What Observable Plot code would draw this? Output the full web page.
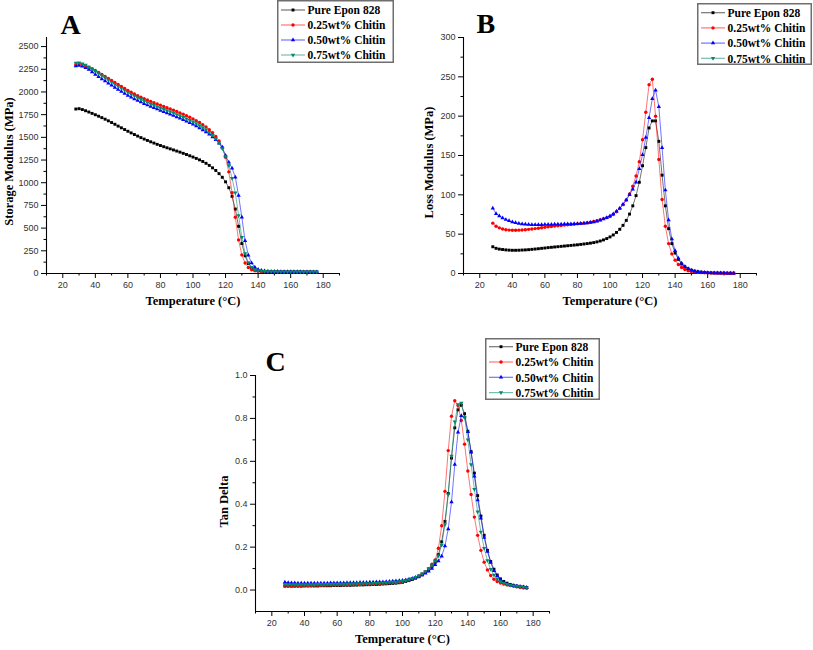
<!DOCTYPE html>
<html><head><meta charset="utf-8">
<script src="https://cdn.jsdelivr.net/npm/d3@7"></script>
<script src="https://cdn.jsdelivr.net/npm/@observablehq/plot@0.6"></script>
<style>
body{margin:0;background:#fff;}
#root{position:relative;width:813px;height:650px;overflow:hidden;background:#fff;}
.panel{position:absolute;}
.legend{position:absolute;overflow:visible;}
</style></head><body><div id="root"></div>
<script>
// ---------- data ----------
const temps = [28,30,32,34,36,38,40,42,44,46,48,50,52,54,56,58,60,62,64,66,68,70,72,74,76,78,80,82,84,86,88,90,92,94,96,98,100,
  102,104,106,108,110,112,114,116,118,120,122,124,126,128,130,132,134,136,138,140,142,144,
  146,148,150,152,154,156,158,160,162,164,166,168,170,172,174,176];

const seriesNames = ["Pure Epon 828","0.25wt% Chitin","0.50wt% Chitin","0.75wt% Chitin"];
const seriesColors = ["#000000","#ff0000","#0000ff","#00896a"];

const xDomain = [10, 190];
const xMajor = [20,40,60,80,100,120,140,160,180];
const xMinor = [10,30,50,70,90,110,130,150,170,190];
const storageTicks = [0,250,500,750,1000,1250,1500,1750,2000,2250,2500];
const storageMinor = [125,375,625,875,1125,1375,1625,1875,2125,2375];
const lossTicks = [0,50,100,150,200,250,300];
const lossMinor = [25,75,125,175,225,275];
const tanTicks = [0,0.2,0.4,0.6,0.8,1.0];
const tanMinor = [0.1,0.3,0.5,0.7,0.9];

// Storage modulus (MPa)
const storagePure = [1812,1816,1806,1793,1779,1764,1749,1733,1717,1700,1682,1663,1644,1624,1605,1586,1567,1549,1531,1514,1497,1481,1466,1451,1437,1423,1410,1397,1385,1373,1361,1349,1337,1324,1311,1297,1283,
  1268,1252,1234,1214,1191,1164,1135,1100,1060,1010,945,850,710,520,330,195,110,65,42,30,24,21,
  19,18,18,17,17,17,16,16,16,16,15,15,15,15,15,15];
const storage025 = [2300,2312,2304,2290,2273,2255,2236,2214,2192,2170,2148,2126,2104,2082,2060,2038,2016,1996,1977,1959,1942,1926,1911,1896,1882,1868,1854,1840,1826,1812,1798,1784,1769,1754,1738,1721,1703,
  1684,1663,1640,1614,1585,1551,1510,1460,1390,1280,1120,890,620,370,205,115,66,42,31,26,23,22,
  21,21,20,20,20,20,20,19,19,19,19,19,19,19,18,18];
const storage050 = [2285,2292,2282,2266,2248,2220,2192,2168,2144,2120,2097,2074,2050,2026,2004,1982,1962,1942,1923,1905,1888,1871,1855,1840,1826,1812,1797,1783,1769,1755,1740,1725,1710,1694,1678,1661,1643,
  1624,1604,1582,1559,1533,1505,1473,1436,1390,1300,1225,1160,1060,860,620,360,200,115,68,45,33,27,
  24,22,21,21,20,20,20,19,19,19,19,18,18,18,18,18];
const storage075 = [2318,2322,2312,2296,2276,2252,2228,2204,2180,2156,2132,2108,2085,2062,2040,2018,1997,1976,1956,1937,1919,1901,1884,1868,1853,1838,1824,1810,1796,1782,1768,1753,1738,1722,1706,1689,1671,
  1652,1631,1608,1583,1555,1523,1486,1441,1376,1290,1190,1050,890,640,400,220,120,70,45,33,27,24,
  22,21,21,20,20,20,19,19,19,19,18,18,18,18,18,18];

// Loss modulus (MPa)
const lossPure = [34,32,31,30.5,30,29.7,29.5,29.5,29.6,29.8,30,30.3,30.7,31.1,31.5,32,32.4,32.9,33.3,33.7,34.1,34.5,34.9,35.3,35.7,36.1,36.5,37,37.5,38,38.6,39.3,40.2,41.3,42.7,44.4,46.5,
  49,52.2,56.2,61.2,67.5,75.5,86,99,116,137,160,185,194,194,168,125,86,57,38,26,18,12,
  8.5,6,4.2,3,2.2,1.7,1.3,1.0,0.8,0.7,0.6,0.5,0.5,0.4,0.4,0.4];
const loss025 = [64,60,58,56.5,55.7,55.2,55,55,55.1,55.3,55.7,56.1,56.6,57.1,57.6,58.2,58.8,59.3,59.8,60.3,60.7,61.1,61.5,61.9,62.3,62.7,63.1,63.5,64,64.6,65.3,66.1,67.1,68.4,69.8,71,72.5,
  75,78.5,82.5,87.5,93.5,101,111,124,142,170,205,240,247,200,145,94,60,38,25,17,11.5,7.6,
  5,3.4,2.4,1.8,1.4,1.1,0.9,0.8,0.7,0.6,0.5,0.5,0.4,0.4,0.4,0.4];
const loss050 = [83,76,73,70.5,68.5,67,65.5,64.5,63.6,63,62.5,62.2,62,62,62,62.1,62.2,62.3,62.4,62.5,62.6,62.7,62.8,62.9,63,63.1,63.3,63.5,63.8,64.2,64.8,65.5,66.5,67.7,69.2,71,73,
  75.5,79,83,88,93.5,100,107,116,133,151,173,198,222,233,212,160,106,68,44,29,19.5,13,
  8.8,6,4.2,3,2.2,1.7,1.3,1.0,0.8,0.7,0.6,0.5,0.5,0.4,0.4,0.4];
const loss075 = []; // not drawn in the reference panel B

// Tan delta
const tanPure = [0.018,0.018,0.018,0.018,0.018,0.018,0.019,0.019,0.019,0.019,0.019,0.020,0.020,0.020,0.020,0.021,0.021,0.021,0.022,0.022,0.022,0.023,0.023,0.024,0.024,0.025,0.025,0.026,0.026,0.027,0.028,0.029,0.030,0.031,0.032,0.034,0.036,
  0.040,0.044,0.049,0.055,0.062,0.071,0.082,0.095,0.11,0.13,0.165,0.225,0.32,0.45,0.615,0.756,0.84,0.862,0.822,0.74,0.645,0.545,
  0.44,0.345,0.255,0.185,0.133,0.097,0.07,0.052,0.04,0.032,0.026,0.022,0.019,0.016,0.014,0.012];
const tan025 = [0.022,0.021,0.021,0.021,0.021,0.021,0.021,0.021,0.022,0.022,0.022,0.022,0.023,0.023,0.023,0.024,0.024,0.024,0.025,0.025,0.026,0.026,0.027,0.027,0.028,0.028,0.029,0.029,0.030,0.031,0.032,0.033,0.034,0.035,0.036,0.038,0.040,
  0.044,0.048,0.053,0.059,0.066,0.075,0.086,0.1,0.12,0.14,0.195,0.30,0.46,0.65,0.81,0.882,0.86,0.79,0.68,0.555,0.445,0.34,
  0.255,0.185,0.13,0.094,0.068,0.05,0.04,0.033,0.028,0.024,0.021,0.018,0.015,0.012,0.01,0.008];
const tan050 = [0.036,0.034,0.033,0.033,0.032,0.032,0.032,0.032,0.032,0.032,0.032,0.032,0.032,0.032,0.033,0.033,0.033,0.033,0.033,0.034,0.034,0.034,0.034,0.035,0.035,0.035,0.036,0.036,0.037,0.037,0.038,0.039,0.040,0.041,0.042,0.043,0.044,
  0.047,0.05,0.054,0.058,0.063,0.07,0.078,0.088,0.1,0.118,0.135,0.158,0.205,0.285,0.41,0.585,0.735,0.812,0.806,0.738,0.642,0.53,
  0.42,0.335,0.245,0.18,0.128,0.09,0.065,0.047,0.036,0.028,0.023,0.02,0.018,0.016,0.014,0.012];
const tan075 = [0.027,0.026,0.026,0.026,0.026,0.026,0.026,0.026,0.026,0.026,0.027,0.027,0.027,0.027,0.027,0.028,0.028,0.028,0.028,0.029,0.029,0.029,0.030,0.030,0.030,0.031,0.031,0.032,0.032,0.033,0.034,0.035,0.036,0.037,0.038,0.040,0.042,
  0.045,0.049,0.054,0.06,0.067,0.076,0.087,0.1,0.115,0.135,0.16,0.21,0.305,0.445,0.625,0.785,0.865,0.872,0.805,0.7,0.585,0.47,
  0.365,0.27,0.195,0.138,0.097,0.07,0.052,0.04,0.032,0.027,0.023,0.02,0.018,0.016,0.013,0.011];

// ---------- drawing ----------
const sqrt3 = Math.sqrt(3);
const triangleDown = {draw(ctx, size) {
  const y = -Math.sqrt(size / (sqrt3 * 3));
  ctx.moveTo(0, -2 * y);
  ctx.lineTo(-sqrt3 * y, y);
  ctx.lineTo(sqrt3 * y, y);
  ctx.closePath();
}};
const seriesSymbols = [d3.symbolSquare, d3.symbolCircle, d3.symbolTriangle, triangleDown];
const markerR = [1.65, 1.7, 1.6, 1.6];

const root = document.getElementById("root");
const SERIF = "'Liberation Serif', 'Times New Roman', serif";
const SANS = "'Liberation Sans', Arial, sans-serif";

function rows(values) {
  return temps.map((t, i) => ({t, v: values[i]})).filter(d => d.v !== undefined);
}

function panel(cfg) {
  const marks = [
    Plot.ruleX([xDomain[0]], {stroke: "black", strokeWidth: 1.1}),
    Plot.ruleY([cfg.yDomain[0]], {stroke: "black", strokeWidth: 1.1}),
    Plot.axisX({ticks: xMajor, tickSize: 5, tickPadding: 3, fontSize: 9, fontFamily: SANS, fill: "#333", stroke: "black", label: null, tickFormat: d3.format("d")}),
    Plot.axisX({ticks: xMinor, tickSize: 2.5, tickPadding: 0, stroke: "black", label: null, tickFormat: () => ""}),
    Plot.axisY({ticks: cfg.yTicks, tickSize: 5, tickPadding: 3, fontSize: 9, fontFamily: SANS, fill: "#333", stroke: "black", label: null, tickFormat: cfg.yFormat}),
    Plot.axisY({ticks: cfg.yMinor, tickSize: 2.5, tickPadding: 0, stroke: "black", label: null, tickFormat: () => ""})
  ];
  cfg.series.forEach((vals, k) => {
    const data = rows(vals);
    if (!data.length) return;
    marks.push(Plot.line(data, {x: "t", y: "v", stroke: seriesColors[k], strokeWidth: 1, strokeOpacity: 0.55}));
    marks.push(Plot.dot(data, {x: "t", y: "v", symbol: seriesSymbols[k], fill: seriesColors[k], r: markerR[k]}));
  });
  marks.push(Plot.text([cfg.yLabel], {text: d => d, frameAnchor: "left", rotate: -90, textAnchor: "middle", dx: cfg.yLabelDx, dy: cfg.yLabelDy, fontFamily: SERIF, fontWeight: "bold", fontSize: 12.5, fill: "black"}));
  marks.push(Plot.text(["Temperature (°C)"], {text: d => d, frameAnchor: "bottom", textAnchor: "middle", dy: 31, fontFamily: SERIF, fontWeight: "bold", fontSize: 12.5, fill: "black"}));
  marks.push(Plot.text([cfg.letter], {text: d => d, frameAnchor: "top-left", textAnchor: "start", lineAnchor: "bottom", dx: cfg.letterDx, dy: cfg.letterDy, fontFamily: SERIF, fontWeight: "bold", fontSize: 28, fill: "black"}));

  const svg = Plot.plot({
    width: cfg.width, height: cfg.height,
    marginLeft: cfg.m[0], marginRight: cfg.m[1], marginTop: cfg.m[2], marginBottom: cfg.m[3],
    x: {domain: xDomain, axis: null},
    y: {domain: cfg.yDomain, axis: null},
    style: {background: "transparent", overflow: "visible", fontFamily: SANS},
    marks
  });
  svg.classList.add("panel");
  svg.style.left = cfg.left + "px";
  svg.style.top = cfg.top + "px";
  root.appendChild(svg);
}

function legend(cfg) {
  const w = cfg.width, h = cfg.height;
  const svg = d3.create("svg").attr("class", "legend").attr("width", w).attr("height", h)
    .style("left", cfg.left + "px").style("top", cfg.top + "px");
  svg.append("rect").attr("x", 0.75).attr("y", 0.75).attr("width", w - 1.5).attr("height", h - 1.5)
    .attr("fill", "white").attr("stroke", "#6e6e6e").attr("stroke-width", 1.5);
  seriesNames.forEach((name, i) => {
    const cy = cfg.first + cfg.step * i;
    svg.append("line").attr("x1", 4).attr("x2", 28).attr("y1", cy).attr("y2", cy)
      .attr("stroke", seriesColors[i]).attr("stroke-width", 1.2).attr("stroke-opacity", 0.55);
    svg.append("path").attr("transform", `translate(16,${cy})`)
      .attr("d", d3.symbol(seriesSymbols[i], markerR[i] * markerR[i] * Math.PI)())
      .attr("fill", seriesColors[i]);
    svg.append("text").attr("x", 30.5).attr("y", cy + 4.2).text(name)
      .attr("font-family", SERIF).attr("font-weight", "bold").attr("font-size", 11.5).attr("fill", "black");
  });
  root.appendChild(svg.node());
}

panel({left: 0, top: 0, width: 400, height: 320, m: [46, 61, 37, 47],
  yDomain: [0, 2600], yTicks: storageTicks, yMinor: storageMinor, yFormat: d3.format("d"),
  series: [storagePure, storage025, storage050, storage075],
  yLabel: "Storage Modulus (MPa)", yLabelDx: -38, yLabelDy: 6,
  letter: "A", letterDx: 14, letterDy: -4});

panel({left: 400, top: 0, width: 413, height: 320, m: [63, 57, 37, 47],
  yDomain: [0, 300], yTicks: lossTicks, yMinor: lossMinor, yFormat: d3.format("d"),
  series: [lossPure, loss025, loss050, loss075],
  yLabel: "Loss Modulus (MPa)", yLabelDx: -35, yLabelDy: 7,
  letter: "B", letterDx: 13, letterDy: -5});

panel({left: 200, top: 320, width: 420, height: 330, m: [55, 71, 55, 39],
  yDomain: [-0.1, 1.0], yTicks: tanTicks, yMinor: tanMinor, yFormat: d3.format(".1f"),
  series: [tanPure, tan025, tan050, tan075],
  yLabel: "Tan Delta", yLabelDx: -32, yLabelDy: 8,
  letter: "C", letterDx: 10, letterDy: -5});

legend({left: 277, top: 0, width: 117, height: 63, first: 10, step: 15});
legend({left: 697, top: 3, width: 115, height: 62, first: 9.7, step: 15.2});
legend({left: 485, top: 338, width: 115, height: 62, first: 8.7, step: 15.3});
</script>
</body></html>
